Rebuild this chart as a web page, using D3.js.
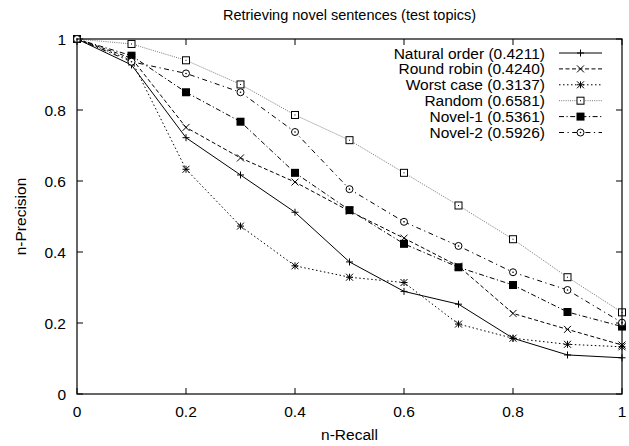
<!DOCTYPE html>
<html><head><meta charset="utf-8">
<script src="https://cdn.jsdelivr.net/npm/d3@7"></script>
<style>body{margin:0;background:#fff}svg{display:block}text{font-family:"Liberation Sans",Arial,sans-serif;fill:#000}</style>
</head><body><svg id="c" width="629" height="446"></svg>
<script>
const recall = [0,0.1,0.2,0.3,0.4,0.5,0.6,0.7,0.8,0.9,1.0];
const naturalOrder = [1,0.927,0.722,0.617,0.512,0.372,0.289,0.253,0.157,0.110,0.102];
const roundRobin   = [1,0.946,0.751,0.665,0.597,0.515,0.439,0.360,0.227,0.182,0.138];
const worstCase    = [1,0.940,0.633,0.473,0.361,0.329,0.314,0.197,0.157,0.140,0.133];
const randomOrder  = [1,0.986,0.940,0.872,0.786,0.715,0.623,0.531,0.436,0.329,0.230];
const novel1       = [1,0.953,0.850,0.767,0.623,0.518,0.423,0.357,0.307,0.231,0.190];
const novel2       = [1,0.936,0.903,0.850,0.738,0.577,0.485,0.417,0.343,0.293,0.201];
const seriesNames = ["Natural order (0.4211)","Round robin (0.4240)","Worst case (0.3137)","Random (0.6581)","Novel-1 (0.5361)","Novel-2 (0.5926)"];
const xTicks = [0,0.2,0.4,0.6,0.8,1];
const yTicks = [0,0.2,0.4,0.6,0.8,1];
const title = "Retrieving novel sentences (test topics)";

const series = [
  {name:seriesNames[0], v:naturalOrder, dash:null, color:"#000", mk:"plus"},
  {name:seriesNames[1], v:roundRobin, dash:"4,2.5", color:"#000", mk:"cross"},
  {name:seriesNames[2], v:worstCase, dash:"1.5,2.5", color:"#000", mk:"star"},
  {name:seriesNames[3], v:randomOrder, dash:"1,1.2", color:"#777", mk:"sq"},
  {name:seriesNames[4], v:novel1, dash:"5,2.5,1.2,2.5", color:"#000", mk:"fsq"},
  {name:seriesNames[5], v:novel2, dash:"5,3.5,1.2,3.5", color:"#000", mk:"circ"}
];

const svg = d3.select("#c");
const L=77, R=622, T=39, B=394;
const x = d3.scaleLinear().domain([0,1]).range([L,R]);
const y = d3.scaleLinear().domain([0,1]).range([B,T]);
const FS = 15.5;

svg.append("text").attr("x",(L+R)/2).attr("y",20).attr("text-anchor","middle").attr("font-size",14.5).text(title);

// ticks (gnuplot: inward, mirrored)
const tl = 6;
const g = svg.append("g").attr("stroke","#000").attr("stroke-width",1);
xTicks.forEach(t=>{
  g.append("line").attr("x1",x(t)).attr("x2",x(t)).attr("y1",B).attr("y2",B-tl);
  g.append("line").attr("x1",x(t)).attr("x2",x(t)).attr("y1",T).attr("y2",T+tl);
});
yTicks.forEach(t=>{
  g.append("line").attr("x1",L).attr("x2",L+tl).attr("y1",y(t)).attr("y2",y(t));
  g.append("line").attr("x1",R).attr("x2",R-tl).attr("y1",y(t)).attr("y2",y(t));
});
const fmt = d=> d===0||d===1? String(d) : d3.format(".1f")(d);
svg.append("g").selectAll("text").data(xTicks).join("text")
  .attr("x",d=>x(d)).attr("y",B+23).attr("text-anchor","middle").attr("font-size",FS).text(fmt);
svg.append("g").selectAll("text").data(yTicks).join("text")
  .attr("x",L-11).attr("y",d=>y(d)).attr("dy","0.36em").attr("text-anchor","end").attr("font-size",FS).text(fmt);
svg.append("text").attr("x",(L+R)/2).attr("y",440).attr("text-anchor","middle").attr("font-size",FS).text("n-Recall");
svg.append("text").attr("transform",`translate(26,${(T+B)/2}) rotate(-90)`).attr("text-anchor","middle").attr("font-size",FS).text("n-Precision");

function marker(sel, type, cx, cy, color){
  const s=3.5;
  const gg = sel.append("g").attr("transform",`translate(${cx},${cy})`).attr("stroke",color).attr("stroke-width",1).attr("fill","none");
  if(type==="plus"||type==="star"){
    gg.append("line").attr("x1",-s).attr("x2",s).attr("y1",0).attr("y2",0);
    gg.append("line").attr("x1",0).attr("x2",0).attr("y1",-s).attr("y2",s);
  }
  if(type==="cross"||type==="star"){
    gg.append("line").attr("x1",-s).attr("x2",s).attr("y1",-s).attr("y2",s);
    gg.append("line").attr("x1",-s).attr("x2",s).attr("y1",s).attr("y2",-s);
  }
  if(type==="sq"){
    gg.attr("stroke","#000");
    gg.append("rect").attr("x",-s).attr("y",-s).attr("width",2*s).attr("height",2*s).attr("fill","#fff");
    gg.append("rect").attr("x",-0.5).attr("y",-0.5).attr("width",1).attr("height",1).attr("fill","#000").attr("stroke","none");
  }
  if(type==="fsq"){
    gg.append("rect").attr("x",-s-0.5).attr("y",-s-0.5).attr("width",2*s+1).attr("height",2*s+1).attr("fill","#000").attr("stroke","none");
  }
  if(type==="circ"){
    gg.append("circle").attr("r",s).attr("fill","#fff");
    gg.append("circle").attr("r",0.8).attr("fill","#000").attr("stroke","none");
  }
}

const line = d3.line().x((d,i)=>x(recall[i])).y(d=>y(d));
const legY0 = 53, legDY = 15.9, legTextX = 545, legL1 = 559, legL2 = 602;
series.forEach((s,k)=>{
  svg.append("path").attr("d",line(s.v)).attr("fill","none").attr("stroke",s.color).attr("stroke-width",1)
    .attr("stroke-dasharray",s.dash);
  const ly = legY0 + k*legDY;
  svg.append("text").attr("x",legTextX).attr("y",ly).attr("dy","0.36em").attr("text-anchor","end").attr("font-size",FS).text(s.name);
  svg.append("line").attr("x1",legL1).attr("x2",legL2).attr("y1",ly).attr("y2",ly).attr("stroke",s.color).attr("stroke-width",1).attr("stroke-dasharray",s.dash);
});
series.forEach((s,k)=>{
  const mg = svg.append("g");
  s.v.forEach((v,i)=>marker(mg, s.mk, x(recall[i]), y(v), s.color==="#777"?"#000":s.color));
  marker(svg, s.mk, (legL1+legL2)/2, legY0+k*legDY, "#000");
});

svg.append("rect").attr("x",L).attr("y",T).attr("width",R-L).attr("height",B-T).attr("fill","none").attr("stroke","#000").attr("stroke-width",1.2);
</script></body></html>
